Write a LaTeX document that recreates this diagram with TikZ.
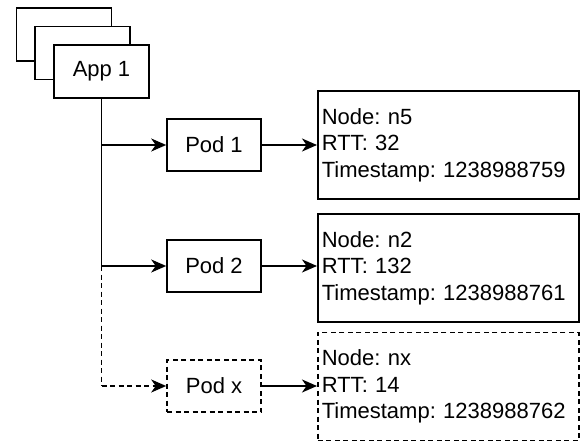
\documentclass[tikz,border=0pt]{standalone}
\usepackage{fontspec}
\setmainfont{Liberation Sans}
\usetikzlibrary{arrows.meta}
\frenchspacing
\begin{document}
\begin{tikzpicture}[x=1bp,y=-1bp,
  line width=1.6bp,
  every node/.style={font=\fontsize{22bp}{26.5bp}\selectfont},
  appbox/.style={draw,fill=white,minimum width=95bp,minimum height=53bp,inner sep=0pt},
  podbox/.style={draw,fill=white,minimum width=94bp,minimum height=52bp,inner sep=0pt},
  infobox/.style={draw,anchor=west,minimum width=261bp,minimum height=108bp,
    text width=253bp,inner xsep=4bp,inner ysep=0pt,align=left},
  ghost/.style={dash pattern=on 5bp off 3.5bp},
  tip/.style={-{Stealth[length=15bp,width=13bp,inset=4.5bp]}}
]
\useasboundingbox (0,0) rectangle (580,443);

% stacked application instances
\node[appbox] (back1) at (64,34.5) {};
\node[appbox] (back2) at (82.5,53) {};
\node[appbox] (app) at (101.5,71.5) {App 1};

% pods
\node[podbox] (pod1) at (214,145) {Pod 1};
\node[podbox] (pod2) at (214,266) {Pod 2};
\node[podbox,ghost] (podx) at (214,386) {Pod x};

% measurement records
\node[infobox] (info1) at (317,145) {Node: n5\\RTT: 32\\Timestamp: 1238988759};
\node[infobox] (info2) at (317,268) {Node: n2\\RTT: 132\\Timestamp: 1238988761};
\node[infobox,ghost] (infox) at (317,386.5) {Node: nx\\RTT: 14\\Timestamp: 1238988762};

% trunk from the application
\draw (app.south) -- (app.south |- pod2.west);
\draw[ghost] (app.south |- pod2.west) -- (app.south |- podx.west);
\draw[tip] (app.south |- pod1.west) -- (pod1.west);
\draw[tip] (app.south |- pod2.west) -- (pod2.west);
\draw[tip,ghost] (app.south |- podx.west) -- (podx.west);

% pod to record
\draw[tip] (pod1.east) -- (pod1.east -| info1.west);
\draw[tip] (pod2.east) -- (pod2.east -| info2.west);
\draw[tip] (podx.east) -- (podx.east -| infox.west);
\end{tikzpicture}
\end{document}
